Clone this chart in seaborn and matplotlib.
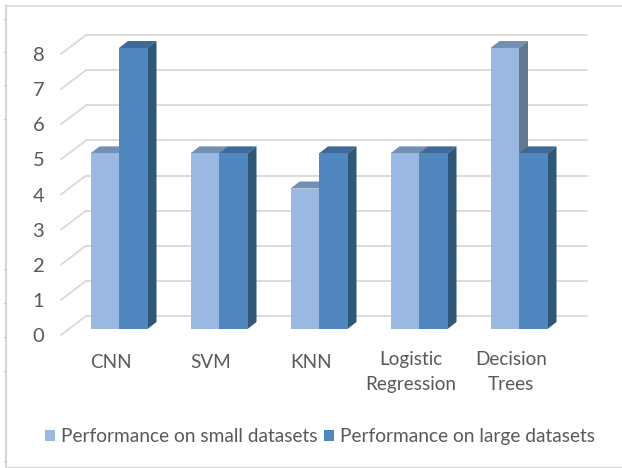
import pandas as pd
import matplotlib
matplotlib.use("Agg")
import matplotlib.pyplot as plt
from matplotlib.lines import Line2D
from matplotlib.patches import Polygon
from matplotlib.transforms import ScaledTranslation
import seaborn as sns

# Dati
categories = ["CNN", "SVM", "KNN", "Logistic\nRegression", "Decision\nTrees"]
small_values = [5, 5, 4, 5, 8]
large_values = [8, 5, 5, 5, 5]
y_ticks = [0, 1, 2, 3, 4, 5, 6, 7, 8]
small_name = "Performance on small datasets"
large_name = "Performance on large datasets"

W, H = 622, 468
TEXT = "#595959"
GRID = "#D9D9D9"
colors = {small_name: "#9AB8E1", large_name: "#4F87BE"}
top_colors = {small_name: "#7190B5", large_name: "#3D6A96"}
side_colors = {small_name: "#61788F", large_name: "#2F5878"}

df = pd.DataFrame({
    "Model": categories * 2,
    "Score": small_values + large_values,
    "Series": [small_name] * 5 + [large_name] * 5,
})

sns.set_theme(style="white")
plt.rcParams["font.family"] = ["Lato", "DejaVu Sans"]

fig = plt.figure(figsize=(W / 100, H / 100), dpi=100)
# assi = piano frontale delle barre (pixel 61-587, valori 0-8 tra y=329 e y=48)
ax = fig.add_axes([61 / W, 1 - 329 / H, 526 / W, 281 / H])

sns.barplot(data=df, x="Model", y="Score", hue="Series", palette=colors,
            width=0.57, saturation=1, ax=ax, zorder=3, edgecolor="none")

ax.set_xlim(-0.58, 4.68)
ax.set_ylim(0, 8)
ax.set_xlabel("")
ax.set_ylabel("")
sns.despine(ax=ax, left=True, bottom=True)

px_x = 1 / 100  # 1 pixel in unita' categoria
px_y = 8 / 281  # 1 pixel in unita' valore

# griglia sul fondo e sul lato sinistro
for v in y_ticks:
    ax.plot([25 * px_x - 0.58, 4.68], [v + 13 * px_y] * 2, color=GRID, lw=1.3, zorder=1, clip_on=False)
    ax.plot([-0.58, 25 * px_x - 0.58], [v - 6 * px_y, v + 13 * px_y], color=GRID, lw=1.3, zorder=1, clip_on=False)

# faccia superiore e laterale di ogni barra
dx, dy = 9 * px_x, 7 * px_y
for container, name, z in zip(ax.containers, [small_name, large_name], [2, 2.1]):
    for bar in container:
        x0, w, h = bar.get_x(), bar.get_width(), bar.get_height()
        x1 = x0 + w
        ax.add_patch(Polygon([(x0, h), (x1, h), (x1 + dx, h + dy), (x0 + dx, h + dy)],
                             fc=top_colors[name], ec="none", zorder=z, clip_on=False))
        ax.add_patch(Polygon([(x1, 0), (x1 + dx, dy), (x1 + dx, h + dy), (x1, h)],
                             fc=side_colors[name], ec="none", zorder=z, clip_on=False))

ax.set_yticks(y_ticks)
ax.tick_params(axis="y", length=0, pad=12, labelsize=14.5, labelcolor=TEXT)
ax.tick_params(axis="x", length=0, pad=18, labelsize=13.6, labelcolor=TEXT)
for t in ax.get_yticklabels():
    t.set_transform(t.get_transform() + ScaledTranslation(0, -6 / 100, fig.dpi_scale_trans))
for t in ax.get_xticklabels():
    t.set_linespacing(1.6)
    lift = 3 if "\n" in t.get_text() else 0
    t.set_transform(t.get_transform() + ScaledTranslation(-8 / 100, lift / 100, fig.dpi_scale_trans))

handles, labels = ax.get_legend_handles_labels()
ax.legend(handles, labels, ncol=2, frameon=False, loc="center left",
          bbox_to_anchor=(45 / W, 1 - 436.5 / H), bbox_transform=fig.transFigure,
          fontsize=13.8, labelcolor=TEXT, handlelength=0.52, handleheight=0.52,
          handletextpad=0.31, columnspacing=0.36, borderpad=0, borderaxespad=0)

# cornice del grafico
for xs, ys, lw in [([6, 6], [5, 467], 1.6), ([6, 622], [5.5, 5.5], 1.1), ([6, 622], [467, 467], 0.8)]:
    fig.add_artist(Line2D([x / W for x in xs], [1 - y / H for y in ys], color=GRID, lw=lw))

# piccoli segni sul bordo sinistro
for y in [19, 52, 85, 119, 269, 303, 337, 371, 461]:
    fig.add_artist(Line2D([4 / W, 6 / W], [1 - y / H] * 2, color="#C8C8C8", lw=0.8))

fig.savefig("out.png", dpi=100, facecolor="white")
plt.close(fig)
